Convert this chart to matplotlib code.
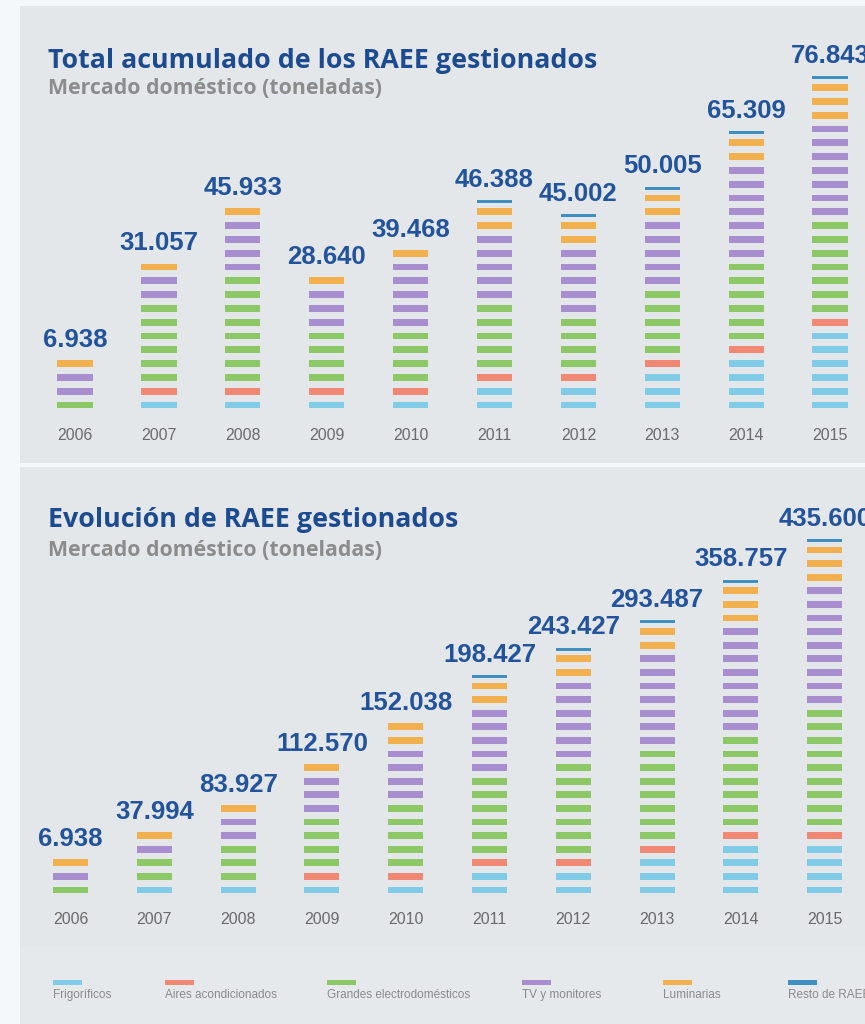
import matplotlib.pyplot as plt
from matplotlib.patches import Rectangle

# data
years = ['2006', '2007', '2008', '2009', '2010', '2011', '2012', '2013', '2014', '2015']
categories = ['Frigoríficos', 'Aires acondicionados', 'Grandes electrodomésticos',
              'TV y monitores', 'Luminarias', 'Resto de RAEE']
colors = ['#80cbe5', '#f08873', '#8dc866', '#a98ecf', '#f2b04f', '#3f8fc0']

# top panel: totals and number of stripes per category
top_values = [6938, 31057, 45933, 28640, 39468, 46388, 45002, 50005, 65309, 76843]
top_frig = [0, 1, 1, 1, 1, 2, 2, 3, 4, 6]
top_aires = [0, 1, 1, 1, 1, 1, 1, 1, 1, 1]
top_grandes = [1, 6, 8, 4, 4, 5, 4, 5, 6, 7]
top_tv = [2, 2, 4, 3, 5, 5, 5, 5, 7, 7]
top_lum = [1, 1, 1, 1, 1, 2, 2, 2, 2, 3]
top_resto = [0, 0, 0, 0, 0, 1, 1, 1, 1, 1]

# bottom panel
bot_values = [6938, 37994, 83927, 112570, 152038, 198427, 243427, 293487, 358757, 435600]
bot_frig = [0, 1, 1, 1, 1, 2, 2, 3, 4, 4]
bot_aires = [0, 0, 0, 1, 1, 1, 1, 1, 1, 1]
bot_grandes = [1, 2, 3, 4, 5, 6, 7, 7, 7, 9]
bot_tv = [1, 1, 2, 3, 4, 5, 6, 7, 8, 9]
bot_lum = [1, 1, 1, 1, 2, 2, 2, 2, 3, 3]
bot_resto = [0, 0, 0, 0, 0, 1, 1, 1, 1, 1]

W, H = 865, 1024
BG = '#e3e7ea'
BLUE = '#1d4b8f'
NUM_FONT = ['Liberation Sans', 'DejaVu Sans']


def draw_panel(ax, counts, values):
    xs, bottoms, heights, cols = [], [], [], []
    tops = []
    for i in range(len(years)):
        k = 0
        top = 0
        for c, col in enumerate(colors):
            for _ in range(counts[c][i]):
                if c == 5:
                    b, h = k - 0.14, 0.22
                else:
                    b, h = k, 0.5
                xs.append(i)
                bottoms.append(b)
                heights.append(h)
                cols.append(col)
                top = b + h
                k += 1
        tops.append(top)
    ax.bar(xs, heights, bottom=bottoms, width=0.42, color=cols, linewidth=0)
    for i, y in enumerate(years):
        ax.text(i, -1.95, y, ha='center', va='center', fontsize=11.5,
                color='#6a6a6a', family=['Liberation Sans', 'DejaVu Sans'])
        lbl = f"{values[i]:,}".replace(',', '.')
        ax.annotate(lbl, (i, tops[i]), xytext=(0, 9.5), textcoords='offset points',
                    ha='center', va='baseline', fontsize=18.5, fontweight='bold',
                    color='#22539b', family=NUM_FONT, annotation_clip=False)
    ax.set_axis_off()


fig = plt.figure(figsize=(W / 100, H / 100), dpi=100, facecolor='#f4f8fb')

# top panel
ax1 = fig.add_axes([20 / W, 1 - 463 / H, 845 / W, 457 / H])
ax1.set_xlim(-55 / 83.9, (845 - 55) / 83.9)
ax1.set_ylim(-3.95, -3.95 + 457 / 13.8)
draw_panel(ax1, [top_frig, top_aires, top_grandes, top_tv, top_lum, top_resto], top_values)
ax1.add_patch(Rectangle((0, 0), 1, 1, transform=ax1.transAxes, color=BG, zorder=-1))

# bottom panel
ax2 = fig.add_axes([20 / W, 1 - 947 / H, 845 / W, 480 / H])
ax2.set_xlim(-50.5 / 83.8, (845 - 50.5) / 83.8)
ax2.set_ylim(-3.94, -3.94 + 480 / 13.6)
draw_panel(ax2, [bot_frig, bot_aires, bot_grandes, bot_tv, bot_lum, bot_resto], bot_values)
ax2.add_patch(Rectangle((0, 0), 1, 1, transform=ax2.transAxes, color=BG, zorder=-1))

# legend strip
ax3 = fig.add_axes([20 / W, 0, 845 / W, 77 / H])
ax3.set_xlim(20, 865)
ax3.set_ylim(1024, 947)
ax3.set_axis_off()
ax3.add_patch(Rectangle((0, 0), 1, 1, transform=ax3.transAxes, color='#e6e9ec', zorder=-1))
leg_x = [53, 165, 327, 522, 663, 788]
for cat, col, lx in zip(categories, colors, leg_x):
    ax3.add_patch(Rectangle((lx, 980), 29, 4.5, color=col, linewidth=0))
    ax3.text(lx, 995, cat, ha='left', va='center', fontsize=8.5, color='#8a8a8a',
             family=['Liberation Sans', 'DejaVu Sans'])

# titles
fig.text(48 / W, 1 - 68 / H, 'Total acumulado de los RAEE gestionados', fontsize=19.3,
         fontweight='bold', color=BLUE, family=['Open Sans', 'DejaVu Sans'], va='baseline')
fig.text(48 / W, 1 - 94 / H, 'Mercado doméstico (toneladas)', fontsize=15.3,
         fontweight='bold', color='#8c8c8c', family=['Open Sans', 'DejaVu Sans'], va='baseline')
fig.text(48 / W, 1 - 527 / H, 'Evolución de RAEE gestionados', fontsize=19.3,
         fontweight='bold', color=BLUE, family=['Open Sans', 'DejaVu Sans'], va='baseline')
fig.text(48 / W, 1 - 556 / H, 'Mercado doméstico (toneladas)', fontsize=15.3,
         fontweight='bold', color='#8c8c8c', family=['Open Sans', 'DejaVu Sans'], va='baseline')

fig.savefig('out.png', dpi=100, facecolor=fig.get_facecolor())
